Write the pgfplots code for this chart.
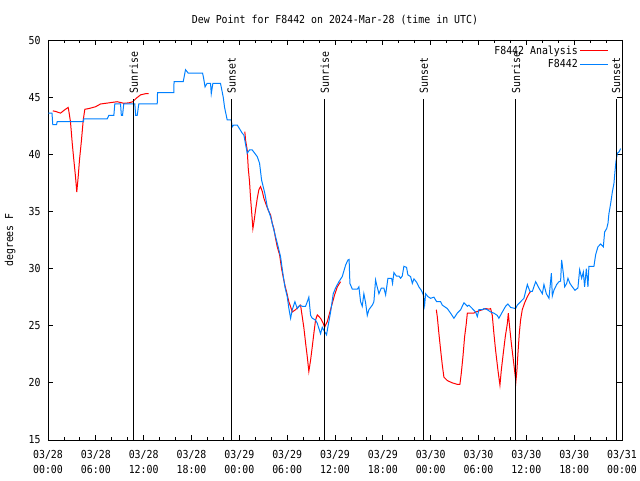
\documentclass[border=0pt]{standalone}
\usepackage{pgfplots}
\pgfplotsset{compat=1.18}
\usepackage{fontspec}
\newfontfamily\gp[FakeStretch=0.9]{DejaVu Sans Mono}
\newcommand\gpf{\gp\fontsize{11}{15}\selectfont}
\definecolor{anared}{RGB}{255,0,0}
\definecolor{obsblue}{RGB}{0,128,255}
\begin{document}
\begin{tikzpicture}
\path[use as bounding box] (-48pt,-40pt) rectangle (592pt,440pt);
\begin{axis}[
  scale only axis, width=574pt, height=400pt,
  at={(0pt,0pt)}, anchor=south west,
  xmin=0, xmax=72, ymin=15, ymax=50,
  clip=false,
  axis line style={black, line width=0.8pt},
  every tick/.style={black, line width=0.8pt},
  tick align=inside,
  major tick length=5pt, minor tick length=3pt,
  xtick={0,6,...,72},
  minor x tick num=2,
  xticklabels={{03/28\\00:00},{03/28\\06:00},{03/28\\12:00},{03/28\\18:00},{03/29\\00:00},{03/29\\06:00},{03/29\\12:00},{03/29\\18:00},{03/30\\00:00},{03/30\\06:00},{03/30\\12:00},{03/30\\18:00},{03/31\\00:00}},
  xticklabel style={align=center, font=\gpf, yshift=-6.5pt},
  ytick={15,20,...,50},
  /pgf/number format/assume math mode=true,
  yticklabel style={font=\gpf, xshift=-4pt},
  legend style={draw=none, fill=none, font=\gpf, at={(1,1)}, anchor=north east, xshift=-10pt, yshift=-1.5pt, row sep=0pt},
  legend cell align=right, legend plot pos=right,
  legend image code/.code={\draw[#1] (3pt,0pt) -- (31pt,0pt);},
]
\addplot[anared, line width=1pt] coordinates {
(0.60,43.8) (0.94,43.75) (1.57,43.6) (2.11,43.9) (2.53,44.1) (2.61,43.8) (2.82,42.85) (3.04,40.96) (3.24,39.5) (3.45,38.04) (3.61,36.7) (3.79,38.04) (3.95,39.5) (4.20,41.25) (4.42,43.0) (4.62,43.94) (5.12,44.0) (5.96,44.16) (6.59,44.4) (7.63,44.5) (8.68,44.6) (9.51,44.46) (10.14,44.5) (10.64,44.6) (11.07,44.9) (11.61,45.2) (12.23,45.3) (12.61,45.3)
};
\addlegendentry{F8442 Analysis}
\addplot[anared, line width=1pt, forget plot] coordinates {
(24.69,41.98) (24.78,41.25) (24.99,40.38) (25.12,38.77) (25.28,37.6) (25.41,36.15) (25.53,35.1) (25.70,33.5) (25.87,34.25) (26.03,35.1) (26.25,36.15) (26.45,36.9) (26.66,37.17) (26.88,36.75) (27.08,36.15) (27.38,35.56) (27.63,35.1) (27.92,34.7) (28.13,33.96) (28.33,33.5) (28.54,32.65) (28.76,31.9) (29.05,31.2) (29.30,30.0) (29.46,29.4) (29.71,28.56) (29.92,27.98) (30.21,27.1) (30.43,26.67) (30.64,26.2) (31.05,26.4) (31.47,26.7) (31.68,26.8) (31.89,25.8) (32.10,24.8) (32.31,23.5) (32.52,22.3) (32.72,21.0) (32.94,22.0) (33.15,23.17) (33.35,24.34) (33.56,25.5) (33.78,25.94) (34.19,25.65) (34.53,25.2) (34.69,24.86) (35.03,25.35) (35.36,26.2) (35.66,26.96) (35.95,27.7) (36.29,28.4) (36.70,28.85)
};
\addplot[anared, line width=1pt, forget plot] coordinates {
(48.71,26.4) (48.83,25.8) (49.03,24.34) (49.25,22.88) (49.46,21.56) (49.66,20.5) (50.09,20.2) (50.71,20.0) (51.34,19.87) (51.67,19.87) (51.84,20.84) (52.05,22.3) (52.26,24.04) (52.47,25.2) (52.60,26.1) (53.42,26.1) (53.64,26.2) (54.05,26.3) (54.48,26.4) (54.89,26.5) (55.31,26.45) (55.52,26.5) (55.73,25.9) (55.93,24.34) (56.14,22.88) (56.44,21.1) (56.69,19.8) (56.86,21.1) (57.11,22.6) (57.36,24.04) (57.62,25.2) (57.74,26.1) (57.90,24.92) (58.12,23.46) (58.37,22.0) (58.57,20.84) (58.69,20.1) (58.82,21.1) (58.95,22.6) (59.12,24.34) (59.28,25.5) (59.49,26.4) (59.79,27.0) (60.04,27.4) (60.33,27.8) (60.54,28.0)
};
\addplot[obsblue, line width=1pt] coordinates {
(0.06,43.6) (0.5,43.6) (0.6,42.6) (1.07,42.6) (1.15,42.85) (4.45,42.85) (4.49,43.1) (7.43,43.1) (7.63,43.4) (8.26,43.4) (8.38,44.4) (9.1,44.4) (9.2,43.4) (9.35,43.4) (9.5,44.4) (10.89,44.4) (11.0,43.4) (11.19,43.4) (11.39,44.4) (13.70,44.4) (13.74,45.4) (15.78,45.4) (15.81,46.35) (16.96,46.35) (17.25,47.4) (17.59,47.1) (19.39,47.1) (19.51,46.7) (19.70,45.9) (19.95,46.2) (20.39,46.2) (20.48,45.3) (20.68,46.2) (21.64,46.2) (21.98,45.0) (22.15,44.1) (22.48,43.0) (22.99,43.0) (23.11,42.4) (23.31,42.56) (23.74,42.56) (24.37,41.84) (24.57,41.69) (24.99,40.09) (25.28,40.38) (25.62,40.38) (26.25,39.79) (26.54,39.21) (26.79,37.75) (27.20,36.58) (27.50,35.41) (27.92,34.54) (28.33,33.38) (28.76,32.21) (29.17,31.04) (29.46,29.59) (29.71,28.42) (30.01,27.54) (30.21,26.53) (30.43,25.65) (30.64,26.4) (30.97,27.1) (31.27,26.5) (31.59,26.8) (31.89,26.7) (32.31,26.7) (32.60,27.25) (32.72,27.5) (32.94,25.9) (33.15,25.65) (33.56,25.5) (33.78,25.2) (34.19,24.3) (34.40,24.86) (34.60,24.6) (34.94,24.2) (35.11,24.9) (35.45,26.2) (35.78,27.8) (36.07,28.3) (36.49,28.85) (36.91,29.3) (37.33,30.3) (37.62,30.75) (37.77,30.8) (37.87,28.7) (38.17,28.2) (38.80,28.2) (39.00,28.4) (39.21,27.1) (39.42,26.7) (39.62,27.8) (39.84,27.0) (40.05,25.9) (40.25,26.4) (40.68,26.8) (40.88,27.1) (41.09,29.0) (41.22,28.6) (41.51,27.8) (41.81,28.3) (42.13,28.3) (42.35,27.7) (42.64,29.15) (43.10,29.15) (43.22,28.7) (43.39,29.65) (43.69,29.35) (44.02,29.35) (44.23,29.15) (44.44,29.35) (44.64,30.2) (44.98,30.1) (45.14,29.45) (45.48,29.3) (45.70,28.7) (45.90,29.1) (46.24,28.8) (46.52,28.4) (46.83,28.1) (47.08,27.7) (47.24,26.8) (47.37,27.8) (47.65,27.55) (47.99,27.4) (48.41,27.5) (48.75,27.1) (49.25,27.1) (49.46,26.8) (50.09,26.5) (50.50,26.1) (50.92,25.65) (51.34,26.1) (51.76,26.4) (52.17,27.0) (52.60,26.7) (52.80,26.8) (53.22,26.5) (53.64,26.2) (53.85,25.8) (54.05,26.4) (54.48,26.4) (54.68,26.5) (55.11,26.4) (55.52,26.2) (55.93,26.1) (56.36,25.9) (56.56,25.65) (56.99,26.2) (57.40,26.7) (57.69,26.9) (58.03,26.6) (58.66,26.5) (58.87,26.8) (59.28,27.1) (59.70,27.4) (60.13,28.6) (60.45,28.0) (60.75,28.0) (61.17,28.85) (61.58,28.3) (62.01,27.8) (62.21,28.6) (62.51,27.8) (62.84,27.4) (63.14,29.6) (63.26,27.6) (63.46,28.1) (63.80,28.6) (64.09,28.85) (64.30,28.9) (64.43,30.75) (64.64,29.6) (64.81,28.4) (65.06,28.7) (65.22,29.15) (65.47,28.7) (65.77,28.4) (66.10,28.1) (66.47,28.3) (66.69,29.9) (66.94,29.15) (67.15,29.7) (67.31,28.4) (67.53,30.0) (67.73,28.4) (67.85,30.2) (68.48,30.2) (68.69,31.2) (68.98,31.9) (69.32,32.15) (69.66,31.9) (69.82,33.2) (70.08,33.5) (70.24,33.95) (70.36,34.8) (70.58,35.7) (70.79,36.7) (70.99,37.45) (71.12,38.5) (71.24,39.35) (71.42,40.1) (71.62,40.2) (71.83,40.5)
};
\addlegendentry{F8442}
% sunrise / sunset lines
\addplot[black, line width=1pt, forget plot] coordinates {(10.77,15) (10.77,44.8)};
\addplot[black, line width=1pt, forget plot] coordinates {(23.04,15) (23.04,44.8)};
\addplot[black, line width=1pt, forget plot] coordinates {(34.73,15) (34.73,44.8)};
\addplot[black, line width=1pt, forget plot] coordinates {(47.15,15) (47.15,44.8)};
\addplot[black, line width=1pt, forget plot] coordinates {(58.70,15) (58.70,44.8)};
\addplot[black, line width=1pt, forget plot] coordinates {(71.25,15) (71.25,44.8)};
\node[rotate=90, anchor=west, inner sep=0pt, font=\gpf] at (axis cs:10.77,45.3) {Sunrise};
\node[rotate=90, anchor=west, inner sep=0pt, font=\gpf] at (axis cs:23.04,45.3) {Sunset};
\node[rotate=90, anchor=west, inner sep=0pt, font=\gpf] at (axis cs:34.73,45.3) {Sunrise};
\node[rotate=90, anchor=west, inner sep=0pt, font=\gpf] at (axis cs:47.15,45.3) {Sunset};
\node[rotate=90, anchor=west, inner sep=0pt, font=\gpf] at (axis cs:58.70,45.3) {Sunrise};
\node[rotate=90, anchor=west, inner sep=0pt, font=\gpf] at (axis cs:71.25,45.3) {Sunset};
\node[font=\gpf] at (rel axis cs:0.5,1.05) {Dew Point for F8442 on 2024-Mar-28 (time in UTC)};
\node[rotate=90, font=\gpf] at (rel axis cs:-0.066,0.5) {degrees F};
\end{axis}
\end{tikzpicture}
\end{document}
